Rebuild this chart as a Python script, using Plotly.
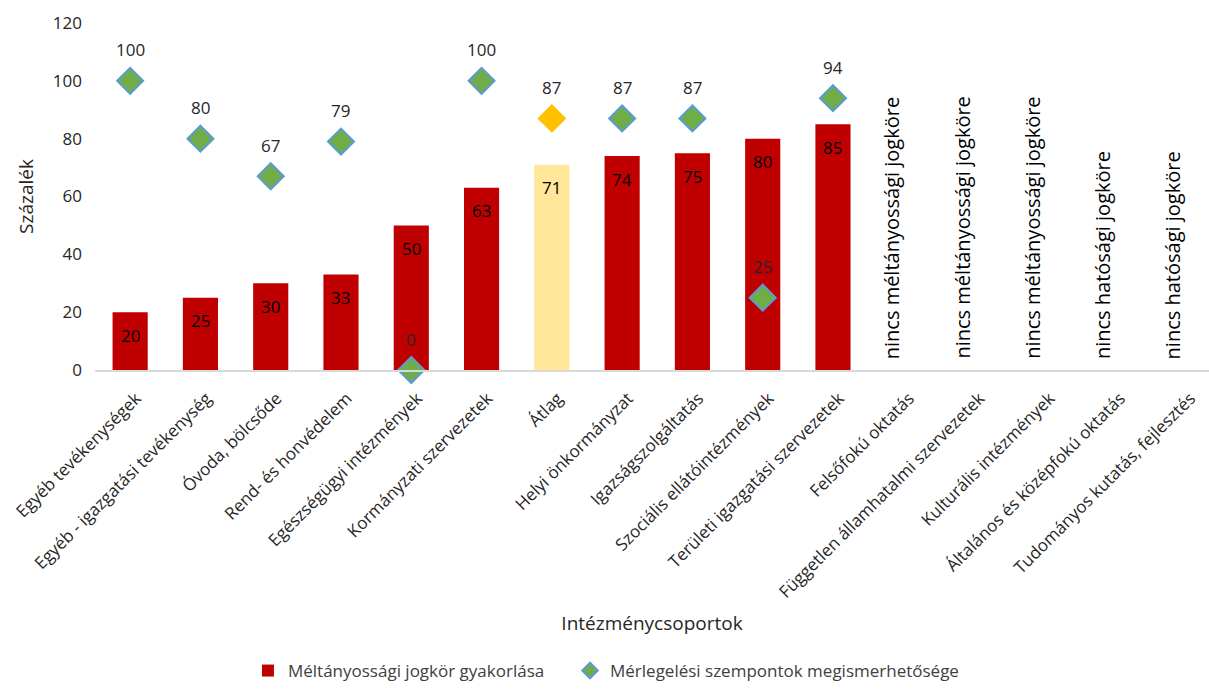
import plotly.graph_objects as go

categories = [
    "Egyéb tevékenységek",
    "Egyéb - igazgatási tevékenység",
    "Óvoda, bölcsőde",
    "Rend- és honvédelem",
    "Egészségügyi intézmények",
    "Kormányzati szervezetek",
    "Átlag",
    "Helyi önkormányzat",
    "Igazságszolgáltatás",
    "Szociális ellátóintézmények",
    "Területi igazgatási szervezetek",
    "Felsőfokú oktatás",
    "Független államhatalmi szervezetek",
    "Kulturális intézmények",
    "Általános és középfokú oktatás",
    "Tudományos kutatás, fejlesztés",
]
bar_values = [20, 25, 30, 33, 50, 63, 71, 74, 75, 80, 85, None, None, None, None, None]
marker_values = [100, 80, 67, 79, 0, 100, 87, 87, 87, 25, 94, None, None, None, None, None]
nincs_labels = [
    None, None, None, None, None, None, None, None, None, None, None,
    "nincs méltányossági jogköre",
    "nincs méltányossági jogköre",
    "nincs méltányossági jogköre",
    "nincs hatósági jogköre",
    "nincs hatósági jogköre",
]
series_names = ["Méltányossági jogkör gyakorlása", "Mérlegelési szempontok megismerhetősége"]
highlight = "Átlag"

FONT = "Open Sans"
TXT = "#262626"

bar_colors = ["#FFE699" if c == highlight else "#C00000" for c in categories]
mk_colors = ["#FFC000" if c == highlight else "#70AD47" for c in categories]
mk_line = ["#FFC000" if c == highlight else "#5B9BD5" for c in categories]

fig = go.Figure()
fig.add_trace(go.Bar(
    x=categories, y=bar_values, name=series_names[0],
    marker=dict(color=bar_colors, line=dict(width=0)),
    width=0.5, legend="legend",
))
fig.add_trace(go.Scatter(
    x=categories, y=marker_values, name=series_names[1], mode="markers",
    marker=dict(symbol="diamond", size=20, color=mk_colors,
                line=dict(color=mk_line, width=2)),
    cliponaxis=False, legend="legend2",
))

ann = []
for c, v in zip(categories, bar_values):
    if v is not None:
        ann.append(dict(x=c, y=v, text=str(v), showarrow=False, yshift=-23,
                        font=dict(family=FONT, size=17, color="#000000")))
for c, v in zip(categories, marker_values):
    if v is not None:
        ann.append(dict(x=c, y=v, text=str(v), showarrow=False, yshift=31,
                        font=dict(family=FONT, size=17, color=TXT)))
for c, t in zip(categories, nincs_labels):
    if t:
        ann.append(dict(x=c, y=0, text=t, showarrow=False, textangle=-90,
                        yanchor="bottom", yshift=9, xshift=-12,
                        font=dict(family=FONT, size=20, color="#000000")))

legend_common = dict(orientation="h", xanchor="left", y=-0.87, yanchor="middle",
                     font=dict(family=FONT, size=17, color="#404040"), itemwidth=30,
                     itemsizing="constant")

fig.update_layout(
    width=1209, height=689,
    margin=dict(l=95, r=0, t=23, b=318),
    paper_bgcolor="white", plot_bgcolor="white",
    font=dict(family=FONT, size=17, color=TXT),
    bargap=0.5,
    showlegend=True,
    legend=dict(x=0.1373, **legend_common),
    legend2=dict(x=0.4264, **legend_common),
    annotations=ann,
    xaxis=dict(
        type="category", range=[-0.5, 15.35], tickangle=-45, automargin=False,
        showline=True, linecolor="#D9D9D9", linewidth=1.5, showgrid=False,
        ticks="", ticklabelstandoff=10, ticklabelshift=6,
        tickfont=dict(family=FONT, size=17, color=TXT),
        title=dict(text="Intézménycsoportok", font=dict(family=FONT, size=19, color=TXT)),
    ),
    yaxis=dict(
        range=[0, 120], dtick=20, showgrid=False, zeroline=False, showline=False,
        automargin=False,
        ticks="", ticklabelstandoff=12, tickfont=dict(family=FONT, size=17, color=TXT),
        title=dict(text="Százalék", font=dict(family=FONT, size=19, color=TXT), standoff=14),
    ),
)

fig.write_html("out.html")
